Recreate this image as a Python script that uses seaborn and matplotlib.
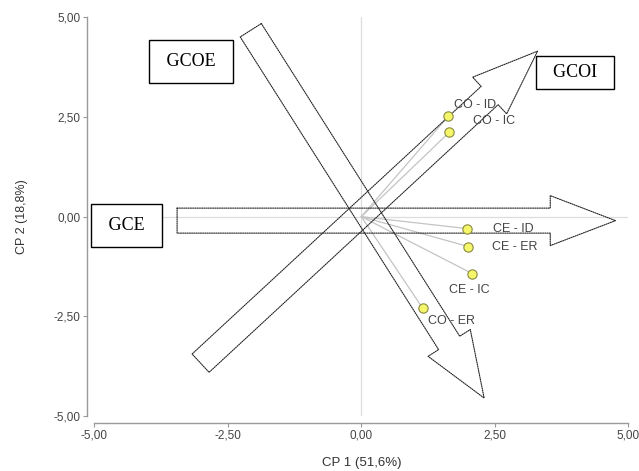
import matplotlib
matplotlib.use('Agg')
import pandas as pd
from matplotlib import pyplot as plt
from matplotlib.patches import FancyArrowPatch
import seaborn as sns

# cargas das variaveis nos dois primeiros componentes
variaveis = ['CO - ID', 'CO - IC', 'CE - ID', 'CE - ER', 'CE - IC', 'CO - ER']
cp1 = [1.63, 1.65, 1.98, 2.00, 2.08, 1.15]
cp2 = [2.52, 2.12, -0.30, -0.75, -1.43, -2.30]
rotulo_dx = [4, 17, 19, 17, -17, 4]
rotulo_dy = [8, 8, 0, 0, -12, -9]

# setas dos grupos
grupos = ['GCE', 'GCOI', 'GCOE']
seta_x0 = [-3.45, -3.01, -2.07]
seta_y0 = [-0.10, -3.675, 4.675]
seta_x1 = [4.76, 3.30, 2.30]
seta_y1 = [-0.10, 4.15, -4.55]
caixa_x = [-4.39, 4.00, -3.19]
caixa_y = [-0.22, 3.61, 3.89]
caixa_pad = [0.72, 0.44, 0.72]
caixa_esp = [' ', '  ', ' ']

ticks = [-5, -2.5, 0, 2.5, 5]
tick_labels = ['-5,00', '-2,50', '0,00', '2,50', '5,00']

df = pd.DataFrame({'CP1': cp1, 'CP2': cp2, 'var': variaveis})

sns.set_theme(style='ticks')
plt.rcParams['font.family'] = ['Liberation Sans', 'DejaVu Sans']

fig = plt.figure(figsize=(6.39, 4.71), dpi=100)
ax = fig.add_axes([0.1476, 0.1168, 0.8357, 0.8465])

ax.axhline(0, color='#dddddd', lw=0.9, zorder=0)
ax.axvline(0, color='#dddddd', lw=0.9, zorder=0)

for x, y in zip(cp1, cp2):
    ax.plot([0, x], [0, y], color='#c4c4c4', lw=0.9, zorder=1)

for x0, y0, x1, y1 in zip(seta_x0, seta_y0, seta_x1, seta_y1):
    seta = FancyArrowPatch((x0, y0), (x1, y1),
                           arrowstyle='simple,head_length=47,head_width=36,tail_width=18',
                           mutation_scale=1, shrinkA=0, shrinkB=0,
                           fc='none', ec='#222222', lw=0.8, ls=(0, (1, 1)), zorder=2)
    ax.add_patch(seta)

sns.scatterplot(data=df, x='CP1', y='CP2', ax=ax, s=45, color='#f6f66a',
                edgecolor='#8a8a40', linewidth=0.8, zorder=3, legend=False)

for nome, x, y, dx, dy in zip(variaveis, cp1, cp2, rotulo_dx, rotulo_dy):
    ax.annotate(nome, (x, y), xytext=(dx, dy), textcoords='offset points',
                ha='left', va='center', fontsize=9, color='#444444', zorder=4)

for nome, x, y, pad, esp in zip(grupos, caixa_x, caixa_y, caixa_pad, caixa_esp):
    ax.text(x, y, esp + nome + esp, family='Liberation Serif', fontsize=13,
            ha='center', va='center', color='black', zorder=5,
            bbox=dict(boxstyle='square,pad=%.2f' % pad, fc='white', ec='black', lw=1))

ax.set_xlim(-5, 5)
ax.set_ylim(-5, 5)
ax.set_xticks(ticks)
ax.set_xticklabels(tick_labels)
ax.set_yticks(ticks)
ax.set_yticklabels(tick_labels)
ax.tick_params(labelsize=8.5, colors='#444444', length=3, width=0.8, pad=2)
ax.tick_params(color='#999999')
ax.set_xlabel('CP 1 (51,6%)', fontsize=9.5, color='#333333', labelpad=11)
ax.set_ylabel('CP 2 (18,8%)', fontsize=9, color='#333333', labelpad=18)

sns.despine(ax=ax, offset=5, trim=True)
for lado in ['left', 'bottom']:
    ax.spines[lado].set_color('#999999')
    ax.spines[lado].set_linewidth(1.0)

fig.savefig('out.png', dpi=100)
